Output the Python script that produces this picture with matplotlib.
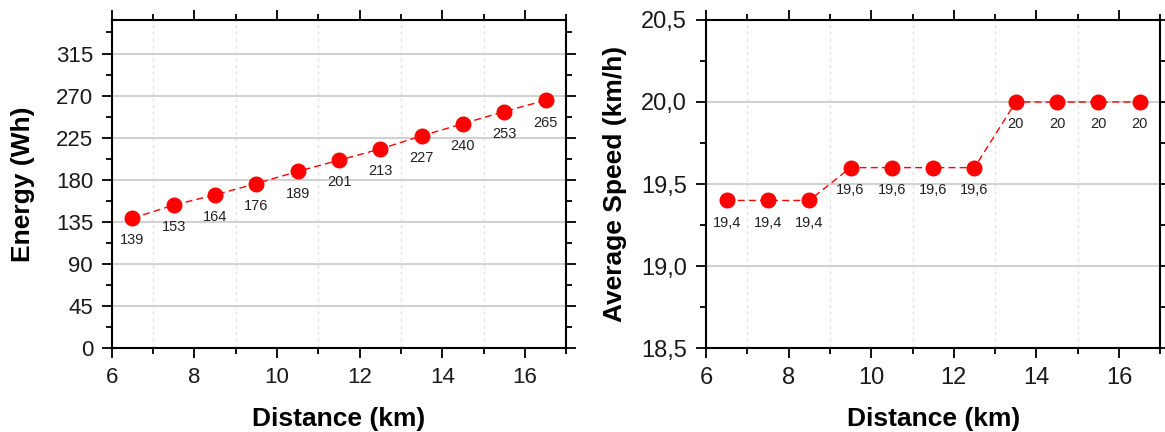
import matplotlib.pyplot as plt
from matplotlib.ticker import MultipleLocator, FuncFormatter

plt.rcParams['font.family'] = ['Liberation Sans', 'DejaVu Sans']

distance = [6.5, 7.5, 8.5, 9.5, 10.5, 11.5, 12.5, 13.5, 14.5, 15.5, 16.5]
energy = [139, 153, 164, 176, 189, 201, 213, 227, 240, 253, 265]
speed = [19.4, 19.4, 19.4, 19.6, 19.6, 19.6, 19.6, 20.0, 20.0, 20.0, 20.0]
speed_labels = ['19,4', '19,4', '19,4', '19,6', '19,6', '19,6', '19,6', '20', '20', '20', '20']


def style_axes(ax, tick_size):
    ax.set_xlim(6, 17)
    ax.xaxis.set_major_locator(MultipleLocator(2))
    ax.xaxis.set_minor_locator(MultipleLocator(1))
    ax.tick_params(which='both', direction='out', top=True, right=True,
                   labeltop=False, labelright=False, width=1.3,
                   labelsize=tick_size, labelcolor='#1a1a1a')
    ax.tick_params(which='major', length=7, pad=6.5)
    ax.tick_params(which='minor', length=4)
    for s in ax.spines.values():
        s.set_linewidth(1.5)
    ax.grid(axis='y', which='major', color='#c8c8c8', lw=1.2)
    ax.grid(axis='x', which='minor', color='#e2e2e2', lw=0.8, ls=(0, (3, 3)))
    ax.set_axisbelow(True)
    ax.set_xlabel('Distance (km)', fontsize=19, fontweight='bold')
    ax.xaxis.set_label_coords(0.5, -0.18)


fig = plt.figure(figsize=(11.65, 4.32), dpi=100)
ax1 = fig.add_axes([0.096, 0.194, 0.390, 0.760])
ax2 = fig.add_axes([0.606, 0.194, 0.390, 0.760])

ax1.plot(distance, energy, color='red', ls=(0, (5, 3)), lw=1, marker='o',
         ms=10.5, mfc='red', mec='red')
for x, y in zip(distance, energy):
    ax1.annotate(str(y), (x, y), xytext=(0, -11), textcoords='offset points',
                 ha='center', va='top', fontsize=10.5, color='#222222')
style_axes(ax1, 16)
ax1.set_ylim(0, 351)
ax1.yaxis.set_major_locator(MultipleLocator(45))
ax1.yaxis.set_minor_locator(MultipleLocator(22.5))
ax1.set_ylabel('Energy (Wh)', fontsize=19, fontweight='bold')
ax1.yaxis.set_label_coords(-0.170, 0.5)

ax2.plot(distance, speed, color='red', ls=(0, (5, 3)), lw=1, marker='o',
         ms=10.5, mfc='red', mec='red')
for x, y, t in zip(distance, speed, speed_labels):
    ax2.annotate(t, (x, y), xytext=(0, -11), textcoords='offset points',
                 ha='center', va='top', fontsize=10.5, color='#222222')
style_axes(ax2, 17)
ax2.set_ylim(18.5, 20.5)
ax2.yaxis.set_major_locator(MultipleLocator(0.5))
ax2.yaxis.set_minor_locator(MultipleLocator(0.25))
ax2.yaxis.set_major_formatter(FuncFormatter(lambda v, p: f'{v:.1f}'.replace('.', ',')))
ax2.set_ylabel('Average Speed (km/h)', fontsize=19, fontweight='bold')
ax2.yaxis.set_label_coords(-0.174, 0.5)

fig.savefig('out.png', dpi=100)
